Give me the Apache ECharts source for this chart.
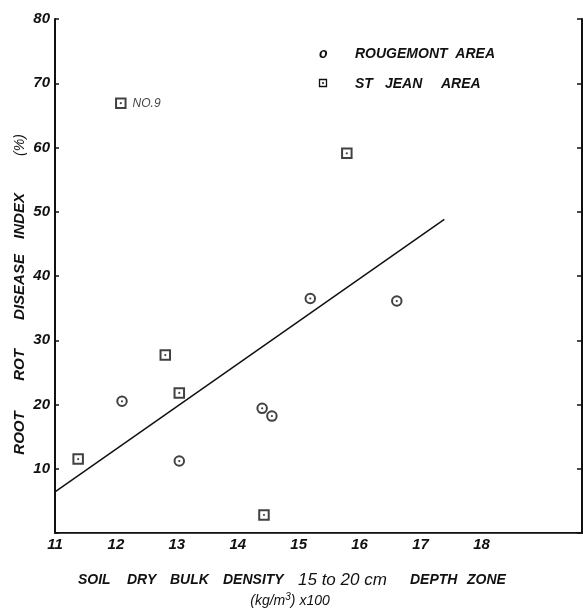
<!DOCTYPE html>
<html>
<head>
<meta charset="utf-8">
<script src="https://cdn.jsdelivr.net/npm/echarts@6/dist/echarts.min.js"></script>
<style>
  html, body { margin: 0; padding: 0; background: #fff; }
  #chart { width: 583px; height: 608px; }
</style>
</head>
<body>
<div id="chart"></div>
<script>
"use strict";

// Rougemont area points (bulk density x100, disease index %)
const rougeX = [12.10, 13.04, 14.40, 14.56, 15.19, 16.61];
const rougeY = [20.5, 11.2, 19.4, 18.2, 36.5, 36.1];

// St Jean area points
const jeanX = [12.08, 15.79, 12.81, 13.04, 11.38, 14.43];
const jeanY = [66.9, 59.1, 27.7, 21.8, 11.5, 2.8];
const jeanNotes = ["NO.9", "", "", "", "", ""];

// Fitted regression line end points
const fitX = [11, 17.39];
const fitY = [6.4, 48.8];

// Axis title words, spread out like the hand-lettered original
const xTitleWords = ["SOIL", "DRY", "BULK", "DENSITY", "15 to 20 cm", "DEPTH", "ZONE"];
const yTitleWords = ["ROOT", "ROT", "DISEASE", "INDEX", "(%)"];

const FONT = "Liberation Sans";
const INK = "#111";

const pairs = (xs, ys) => xs.map((x, i) => [x, ys[i]]);

// ring + centre dot: one outline series and one dot series per area
function markerSeries(name, xs, ys, ring, notes) {
  const outline = {
    name: name,
    type: "scatter",
    symbol: ring,
    symbolSize: 9.5,
    itemStyle: { color: INK, borderColor: INK, borderWidth: 1.5 },
    data: pairs(xs, ys).map((p, i) => ({
      value: p,
      label: notes && notes[i] ? {
        show: true,
        formatter: notes[i],
        position: "right",
        distance: 6,
        fontFamily: FONT,
        fontStyle: "italic",
        fontSize: 12,
        color: INK,
        textBorderWidth: 0,
      } : { show: false },
    })),
    z: 3,
  };
  const dot = {
    type: "scatter",
    symbol: "circle",
    symbolSize: 2.2,
    itemStyle: { color: INK },
    data: pairs(xs, ys),
    z: 4,
  };
  return [outline, dot];
}

const chart = echarts.init(document.getElementById("chart"), null, { renderer: "canvas" });

const tickLabel = {
  fontFamily: FONT,
  fontStyle: "italic",
  fontWeight: "bold",
  fontSize: 15,
  color: INK,
};

const boldItalic = { fontFamily: FONT, fontStyle: "italic", fontWeight: "bold", fontSize: 14, fill: INK };

// left edges of the x title words and centres of the y title words (px)
const xTitleLeft = [78, 127, 170, 223, 298, 410, 467];
const yTitleMid = [433, 365, 287, 216, 145];

const titleGraphics = [];
xTitleWords.forEach((w, i) => {
  const plain = w.indexOf("cm") !== -1;
  titleGraphics.push({
    type: "text", x: xTitleLeft[i], y: 580,
    style: Object.assign({}, boldItalic, {
      text: w,
      verticalAlign: "middle",
      fontWeight: plain ? "normal" : "bold",
      fontSize: plain ? 17 : 14,
    }),
  });
});
yTitleWords.forEach((w, i) => {
  const plain = w === "(%)";
  titleGraphics.push({
    type: "text", x: 20, y: yTitleMid[i], rotation: Math.PI / 2,
    style: Object.assign({}, boldItalic, {
      text: w,
      align: "center",
      verticalAlign: "middle",
      fontWeight: plain ? "normal" : "bold",
      fontSize: plain ? 14 : 15,
    }),
  });
});

chart.setOption({
  backgroundColor: "#fff",
  animation: false,
  grid: { left: 55, right: 1, top: 19, bottom: 75 },
  xAxis: [
    {
      type: "value",
      min: 11,
      max: 19.65,
      interval: 1,
      position: "bottom",
      axisLine: { lineStyle: { color: INK, width: 2 } },
      axisTick: { show: false },
      splitLine: { show: false },
      axisLabel: Object.assign({}, tickLabel, {
        margin: 4,
        showMaxLabel: false,
        formatter: (v) => (v <= 18 ? String(v) : ""),
      }),
    },
    {
      type: "value",
      min: 11,
      max: 19.65,
      position: "top",
      axisLine: { show: true, lineStyle: { color: "#444", width: 1 } },
      axisTick: { show: false },
      axisLabel: { show: false },
      splitLine: { show: false },
    },
  ],
  yAxis: [
    {
      type: "value",
      min: 0,
      max: 80,
      interval: 10,
      position: "left",
      axisLine: { show: true, lineStyle: { color: INK, width: 2 } },
      axisTick: { show: true, inside: true, length: 4, lineStyle: { color: INK, width: 1.5 } },
      splitLine: { show: false },
      axisLabel: Object.assign({}, tickLabel, {
        margin: 5,
        formatter: (v) => (v === 0 ? "" : String(v)),
      }),
    },
    {
      type: "value",
      min: 0,
      max: 80,
      interval: 10,
      position: "right",
      axisLine: { show: true, lineStyle: { color: INK, width: 2 } },
      axisTick: { show: true, inside: true, length: 5, lineStyle: { color: INK, width: 1.5 } },
      axisLabel: { show: false },
      splitLine: { show: false },
    },
  ],
  series: [
    {
      name: "fit",
      type: "line",
      data: pairs(fitX, fitY),
      symbol: "none",
      lineStyle: { color: INK, width: 1.5 },
      z: 2,
    },
    ...markerSeries("ROUGEMONT AREA", rougeX, rougeY, "emptyCircle"),
    ...markerSeries("ST JEAN AREA", jeanX, jeanY, "emptyRect", jeanNotes),
  ],
  graphic: [
    // legend
    { type: "text", x: 319, y: 54, style: Object.assign({}, boldItalic, { text: "o", verticalAlign: "middle" }) },
    { type: "text", x: 355, y: 54, style: Object.assign({}, boldItalic, { text: "ROUGEMONT  AREA", verticalAlign: "middle" }) },
    {
      type: "rect", shape: { x: 319.5, y: 79.5, width: 7, height: 7 },
      style: { fill: "none", stroke: INK, lineWidth: 1.3 },
    },
    { type: "circle", shape: { cx: 323, cy: 83, r: 1 }, style: { fill: INK } },
    { type: "text", x: 355, y: 84, style: Object.assign({}, boldItalic, { text: "ST", verticalAlign: "middle" }) },
    { type: "text", x: 385, y: 84, style: Object.assign({}, boldItalic, { text: "JEAN", verticalAlign: "middle" }) },
    { type: "text", x: 441, y: 84, style: Object.assign({}, boldItalic, { text: "AREA", verticalAlign: "middle" }) },
    ...titleGraphics,
    {
      type: "text",
      x: 290, y: 601,
      style: {
        text: "(kg/m{s|3}) x100",
        align: "center",
        verticalAlign: "middle",
        fontFamily: FONT,
        fontStyle: "italic",
        fontSize: 14,
        fill: INK,
        rich: { s: { fontFamily: FONT, fontStyle: "italic", fontSize: 10, verticalAlign: "top", padding: [0, 0, 8, 0], fill: INK } },
      },
    },
  ],
});
</script>
</body>
</html>
